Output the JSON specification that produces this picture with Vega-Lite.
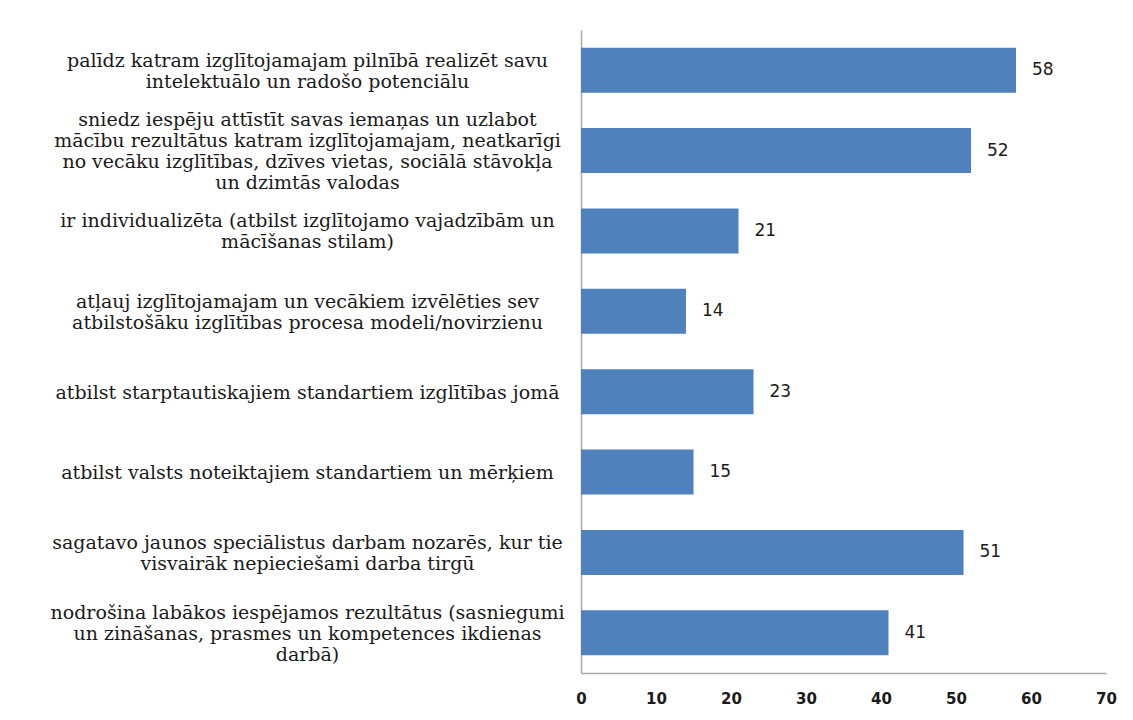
{
  "$schema": "https://vega.github.io/schema/vega-lite/v6.json",
  "width": 525,
  "height": 643,
  "autosize": {"type": "none"},
  "padding": {"left": 581, "top": 30, "right": 27, "bottom": 47},
  "background": "white",
  "config": {"view": {"stroke": null}},
  "data": {
    "values": [
      {"label": "palīdz katram izglītojamajam  pilnībā realizēt savu|intelektuālo un radošo potenciālu", "value": 58},
      {"label": "sniedz iespēju attīstīt savas iemaņas un uzlabot|mācību rezultātus katram izglītojamajam, neatkarīgi|no vecāku izglītības, dzīves vietas, sociālā stāvokļa|un dzimtās valodas", "value": 52},
      {"label": "ir individualizēta (atbilst izglītojamo vajadzībām un|mācīšanas stilam)", "value": 21},
      {"label": "atļauj izglītojamajam   un vecākiem izvēlēties sev|atbilstošāku izglītības procesa modeli/novirzienu", "value": 14},
      {"label": "atbilst starptautiskajiem standartiem izglītības jomā", "value": 23},
      {"label": "atbilst valsts noteiktajiem standartiem un mērķiem", "value": 15},
      {"label": "sagatavo jaunos speciālistus darbam nozarēs, kur tie|visvairāk nepieciešami darba tirgū", "value": 51},
      {"label": "nodrošina labākos iespējamos rezultātus (sasniegumi|un zināšanas, prasmes un kompetences ikdienas|darbā)", "value": 41}
    ]
  },
  "encoding": {
    "y": {
      "field": "label",
      "type": "nominal",
      "sort": null,
      "scale": {"paddingInner": 0.44, "paddingOuter": 0.22},
      "axis": {
        "title": null,
        "labelExpr": "split(datum.label, '|')",
        "labelAlign": "center",
        "labelBaseline": "middle",
        "labelPadding": 274,
        "labelLimit": 0,
        "labelOffset": {
          "condition": [
            {"test": "indexof(datum.value, '|') < 0", "value": 1},
            {"test": "length(split(datum.value, '|')) == 2", "value": -9.5},
            {"test": "length(split(datum.value, '|')) == 3", "value": -20}
          ],
          "value": -30.5
        },
        "labelFont": "DejaVu Serif",
        "labelFontSize": 19,
        "labelLineHeight": 21,
        "labelColor": "#1a1a1a",
        "ticks": false,
        "domainColor": "#A6A6A6",
        "domainWidth": 1.5,
        "grid": false
      }
    },
    "x": {
      "field": "value",
      "type": "quantitative",
      "scale": {"domain": [0, 70]},
      "axis": {
        "title": null,
        "values": [0, 10, 20, 30, 40, 50, 60, 70],
        "ticks": false,
        "grid": false,
        "labelFont": "DejaVu Sans",
        "labelFontWeight": "bold",
        "labelFontSize": 15,
        "labelColor": "#1a1a1a",
        "labelPadding": 18,
        "labelFlush": false,
        "domainColor": "#A6A6A6",
        "domainWidth": 1.5
      }
    }
  },
  "layer": [
    {"mark": {"type": "bar", "color": "#4F81BD"}},
    {
      "mark": {"type": "text", "align": "left", "baseline": "middle", "dx": 16, "font": "DejaVu Sans", "fontSize": 17, "color": "#1a1a1a"},
      "encoding": {"text": {"field": "value", "type": "quantitative"}}
    }
  ]
}
